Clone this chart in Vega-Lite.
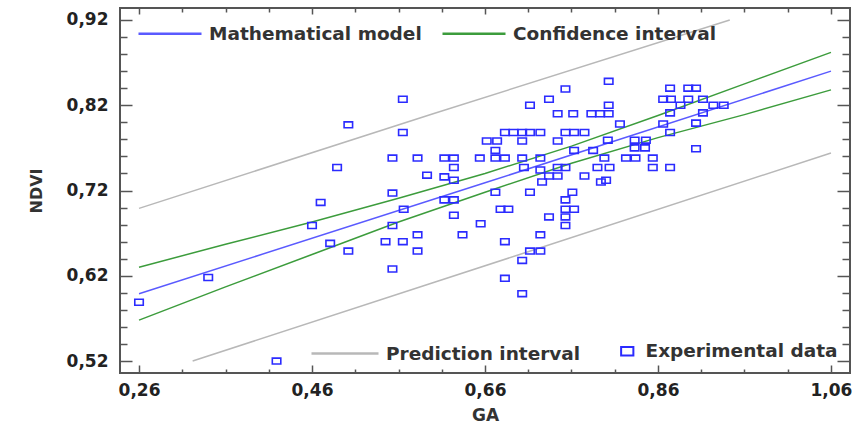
{
  "$schema": "https://vega.github.io/schema/vega-lite/v6.json",
  "width": 730,
  "height": 365,
  "autosize": {"type": "none"},
  "padding": {"left": 120, "top": 8, "right": 3, "bottom": 53},
  "background": "white",
  "config": {
    "view": {"stroke": "#555", "strokeWidth": 2},
    "font": "DejaVu Sans",
    "legend": {
      "labelFont": "DejaVu Sans",
      "labelFontWeight": "bold",
      "labelFontSize": 18.5,
      "labelColor": "#333",
      "labelLimit": 400,
      "padding": 0,
      "labelOffset": 6,
      "title": null
    }
  },
  "datasets": {
    "fit": [
      {"series": "Mathematical model", "line": "model", "GA": 0.26, "NDVI": 0.599},
      {"series": "Mathematical model", "line": "model", "GA": 0.66, "NDVI": 0.729},
      {"series": "Mathematical model", "line": "model", "GA": 1.06, "NDVI": 0.860},
      {"series": "Confidence interval", "line": "cu", "GA": 0.26, "NDVI": 0.630},
      {"series": "Confidence interval", "line": "cu", "GA": 0.36, "NDVI": 0.657},
      {"series": "Confidence interval", "line": "cu", "GA": 0.46, "NDVI": 0.683},
      {"series": "Confidence interval", "line": "cu", "GA": 0.56, "NDVI": 0.711},
      {"series": "Confidence interval", "line": "cu", "GA": 0.66, "NDVI": 0.740},
      {"series": "Confidence interval", "line": "cu", "GA": 0.76, "NDVI": 0.772},
      {"series": "Confidence interval", "line": "cu", "GA": 0.86, "NDVI": 0.808},
      {"series": "Confidence interval", "line": "cu", "GA": 0.96, "NDVI": 0.845},
      {"series": "Confidence interval", "line": "cu", "GA": 1.06, "NDVI": 0.882},
      {"series": "Confidence interval", "line": "cl", "GA": 0.26, "NDVI": 0.568},
      {"series": "Confidence interval", "line": "cl", "GA": 0.36, "NDVI": 0.607},
      {"series": "Confidence interval", "line": "cl", "GA": 0.46, "NDVI": 0.645},
      {"series": "Confidence interval", "line": "cl", "GA": 0.56, "NDVI": 0.683},
      {"series": "Confidence interval", "line": "cl", "GA": 0.66, "NDVI": 0.718},
      {"series": "Confidence interval", "line": "cl", "GA": 0.76, "NDVI": 0.752},
      {"series": "Confidence interval", "line": "cl", "GA": 0.86, "NDVI": 0.782},
      {"series": "Confidence interval", "line": "cl", "GA": 0.96, "NDVI": 0.809},
      {"series": "Confidence interval", "line": "cl", "GA": 1.06, "NDVI": 0.838}
    ],
    "pred": [
      {"series": "Prediction interval", "line": "pu", "GA": 0.26, "NDVI": 0.699},
      {"series": "Prediction interval", "line": "pu", "GA": 0.60, "NDVI": 0.810},
      {"series": "Prediction interval", "line": "pu", "GA": 0.943, "NDVI": 0.920},
      {"series": "Prediction interval", "line": "pl", "GA": 0.322, "NDVI": 0.520},
      {"series": "Prediction interval", "line": "pl", "GA": 0.70, "NDVI": 0.645},
      {"series": "Prediction interval", "line": "pl", "GA": 1.06, "NDVI": 0.764}
    ],
    "obs": [
      {"GA": 0.260, "NDVI": 0.589}, {"GA": 0.340, "NDVI": 0.618}, {"GA": 0.419, "NDVI": 0.520},
      {"GA": 0.460, "NDVI": 0.679}, {"GA": 0.470, "NDVI": 0.706}, {"GA": 0.489, "NDVI": 0.747},
      {"GA": 0.502, "NDVI": 0.797}, {"GA": 0.481, "NDVI": 0.658}, {"GA": 0.502, "NDVI": 0.649},
      {"GA": 0.553, "NDVI": 0.758}, {"GA": 0.553, "NDVI": 0.717}, {"GA": 0.565, "NDVI": 0.827},
      {"GA": 0.565, "NDVI": 0.788}, {"GA": 0.582, "NDVI": 0.758}, {"GA": 0.593, "NDVI": 0.738},
      {"GA": 0.566, "NDVI": 0.698}, {"GA": 0.553, "NDVI": 0.679}, {"GA": 0.545, "NDVI": 0.660},
      {"GA": 0.565, "NDVI": 0.660}, {"GA": 0.553, "NDVI": 0.628}, {"GA": 0.582, "NDVI": 0.668},
      {"GA": 0.582, "NDVI": 0.649}, {"GA": 0.613, "NDVI": 0.758}, {"GA": 0.624, "NDVI": 0.758},
      {"GA": 0.624, "NDVI": 0.747}, {"GA": 0.613, "NDVI": 0.736}, {"GA": 0.624, "NDVI": 0.732},
      {"GA": 0.624, "NDVI": 0.709}, {"GA": 0.613, "NDVI": 0.709}, {"GA": 0.624, "NDVI": 0.691},
      {"GA": 0.634, "NDVI": 0.668}, {"GA": 0.655, "NDVI": 0.681}, {"GA": 0.654, "NDVI": 0.758},
      {"GA": 0.662, "NDVI": 0.778}, {"GA": 0.674, "NDVI": 0.778}, {"GA": 0.672, "NDVI": 0.767},
      {"GA": 0.672, "NDVI": 0.758}, {"GA": 0.683, "NDVI": 0.758}, {"GA": 0.683, "NDVI": 0.788},
      {"GA": 0.693, "NDVI": 0.788}, {"GA": 0.703, "NDVI": 0.788}, {"GA": 0.712, "NDVI": 0.788},
      {"GA": 0.724, "NDVI": 0.788}, {"GA": 0.712, "NDVI": 0.820}, {"GA": 0.734, "NDVI": 0.827},
      {"GA": 0.753, "NDVI": 0.839}, {"GA": 0.744, "NDVI": 0.810}, {"GA": 0.762, "NDVI": 0.810},
      {"GA": 0.783, "NDVI": 0.810}, {"GA": 0.793, "NDVI": 0.810}, {"GA": 0.803, "NDVI": 0.810},
      {"GA": 0.803, "NDVI": 0.820}, {"GA": 0.803, "NDVI": 0.848}, {"GA": 0.753, "NDVI": 0.788},
      {"GA": 0.763, "NDVI": 0.788}, {"GA": 0.775, "NDVI": 0.788}, {"GA": 0.703, "NDVI": 0.778},
      {"GA": 0.744, "NDVI": 0.778}, {"GA": 0.763, "NDVI": 0.767}, {"GA": 0.785, "NDVI": 0.767},
      {"GA": 0.703, "NDVI": 0.758}, {"GA": 0.724, "NDVI": 0.758}, {"GA": 0.705, "NDVI": 0.747},
      {"GA": 0.724, "NDVI": 0.744}, {"GA": 0.744, "NDVI": 0.747}, {"GA": 0.753, "NDVI": 0.747},
      {"GA": 0.734, "NDVI": 0.737}, {"GA": 0.744, "NDVI": 0.737}, {"GA": 0.775, "NDVI": 0.737},
      {"GA": 0.790, "NDVI": 0.747}, {"GA": 0.726, "NDVI": 0.730}, {"GA": 0.794, "NDVI": 0.730},
      {"GA": 0.672, "NDVI": 0.718}, {"GA": 0.712, "NDVI": 0.718}, {"GA": 0.761, "NDVI": 0.718},
      {"GA": 0.753, "NDVI": 0.709}, {"GA": 0.678, "NDVI": 0.698}, {"GA": 0.687, "NDVI": 0.698},
      {"GA": 0.753, "NDVI": 0.698}, {"GA": 0.763, "NDVI": 0.698}, {"GA": 0.734, "NDVI": 0.689},
      {"GA": 0.753, "NDVI": 0.689}, {"GA": 0.753, "NDVI": 0.679}, {"GA": 0.724, "NDVI": 0.668},
      {"GA": 0.683, "NDVI": 0.660}, {"GA": 0.712, "NDVI": 0.649}, {"GA": 0.724, "NDVI": 0.649},
      {"GA": 0.703, "NDVI": 0.638}, {"GA": 0.683, "NDVI": 0.617}, {"GA": 0.703, "NDVI": 0.599},
      {"GA": 0.816, "NDVI": 0.798}, {"GA": 0.802, "NDVI": 0.779}, {"GA": 0.833, "NDVI": 0.779},
      {"GA": 0.846, "NDVI": 0.779}, {"GA": 0.833, "NDVI": 0.770}, {"GA": 0.845, "NDVI": 0.770},
      {"GA": 0.798, "NDVI": 0.758}, {"GA": 0.823, "NDVI": 0.758}, {"GA": 0.834, "NDVI": 0.758},
      {"GA": 0.854, "NDVI": 0.758}, {"GA": 0.854, "NDVI": 0.747}, {"GA": 0.804, "NDVI": 0.747},
      {"GA": 0.874, "NDVI": 0.747}, {"GA": 0.800, "NDVI": 0.732}, {"GA": 0.874, "NDVI": 0.840},
      {"GA": 0.895, "NDVI": 0.840}, {"GA": 0.904, "NDVI": 0.840}, {"GA": 0.866, "NDVI": 0.827},
      {"GA": 0.875, "NDVI": 0.827}, {"GA": 0.895, "NDVI": 0.827}, {"GA": 0.912, "NDVI": 0.827},
      {"GA": 0.886, "NDVI": 0.820}, {"GA": 0.924, "NDVI": 0.820}, {"GA": 0.936, "NDVI": 0.820},
      {"GA": 0.874, "NDVI": 0.811}, {"GA": 0.912, "NDVI": 0.811}, {"GA": 0.866, "NDVI": 0.798},
      {"GA": 0.874, "NDVI": 0.788}, {"GA": 0.904, "NDVI": 0.799}, {"GA": 0.904, "NDVI": 0.769}
    ]
  },
  "resolve": {
    "scale": {"color": "independent"},
    "legend": {"color": "independent"},
    "axis": {"x": "independent", "y": "independent"}
  },
  "layer": [
    {
      "data": {"name": "fit"},
      "mark": {"type": "line", "strokeWidth": 1.5},
      "encoding": {
        "x": {
          "field": "GA", "type": "quantitative",
          "scale": {"domain": [0.238, 1.082], "nice": false, "zero": false},
          "axis": {
            "orient": "bottom",
            "values": [0.26, 0.31, 0.36, 0.41, 0.46, 0.51, 0.56, 0.61, 0.66, 0.71, 0.76, 0.81, 0.86, 0.91, 0.96, 1.01, 1.06],
            "tickSize": {"condition": {"test": "indexof([0.26, 0.46, 0.66, 0.86, 1.06], datum.value) >= 0", "value": -8}, "value": -4},
            "tickColor": "#555", "tickWidth": 1.5,
            "labelExpr": "indexof([0.26, 0.46, 0.66, 0.86, 1.06], datum.value) >= 0 ? replace(format(datum.value, '.2f'), '.', ',') : ''",
            "labelPadding": 17, "labelFlush": false, "labelOverlap": false, "labelBound": false,
            "labelFont": "DejaVu Sans", "labelFontWeight": "bold", "labelFontSize": 17, "labelColor": "#222",
            "domain": false, "grid": false,
            "title": "GA", "titleFont": "DejaVu Sans", "titleFontWeight": "bold", "titleFontSize": 17, "titleColor": "#333", "titlePadding": 5
          }
        },
        "y": {
          "field": "NDVI", "type": "quantitative",
          "scale": {"domain": [0.506, 0.934], "nice": false, "zero": false},
          "axis": {
            "orient": "left",
            "values": [0.52, 0.54, 0.56, 0.58, 0.60, 0.62, 0.64, 0.66, 0.68, 0.70, 0.72, 0.74, 0.76, 0.78, 0.80, 0.82, 0.84, 0.86, 0.88, 0.90, 0.92],
            "tickSize": {"condition": {"test": "indexof([0.52, 0.62, 0.72, 0.82, 0.92], datum.value) >= 0", "value": -12}, "value": -7},
            "tickColor": "#555", "tickWidth": 1.5,
            "labelExpr": "indexof([0.52, 0.62, 0.72, 0.82, 0.92], datum.value) >= 0 ? replace(format(datum.value, '.2f'), '.', ',') : ''",
            "labelPadding": 24, "labelFlush": false, "labelOverlap": false, "labelBound": false,
            "labelFont": "DejaVu Sans", "labelFontWeight": "bold", "labelFontSize": 17, "labelColor": "#222",
            "domain": false, "grid": false,
            "title": "NDVI", "titleFont": "DejaVu Sans", "titleFontWeight": "bold", "titleFontSize": 16, "titleColor": "#333", "titlePadding": 22
          }
        },
        "detail": {"field": "line"},
        "color": {
          "field": "series", "type": "nominal",
          "scale": {"domain": ["Mathematical model", "Confidence interval"], "range": ["#5a5aff", "#3c9c3c"]},
          "legend": {
            "orient": "none", "direction": "horizontal", "legendX": 17, "legendY": -7.5,
            "symbolType": "stroke", "symbolSize": 3969, "symbolStrokeWidth": 2.5,
            "columnPadding": 15
          }
        }
      }
    },
    {
      "data": {"name": "pred"},
      "mark": {"type": "line", "strokeWidth": 1.5},
      "encoding": {
        "x": {"field": "GA", "type": "quantitative", "scale": {"domain": [0.238, 1.082], "nice": false, "zero": false}, "axis": null},
        "y": {"field": "NDVI", "type": "quantitative", "scale": {"domain": [0.506, 0.934], "nice": false, "zero": false}, "axis": null},
        "detail": {"field": "line"},
        "color": {
          "field": "series", "type": "nominal",
          "scale": {"domain": ["Prediction interval"], "range": ["#b8b8b8"]},
          "legend": {
            "orient": "none", "legendX": 190, "legendY": 310.5,
            "symbolType": "stroke", "symbolSize": 4489, "symbolStrokeWidth": 2.5
          }
        }
      }
    },
    {
      "data": {"name": "obs"},
      "mark": {"type": "point", "shape": "M-1,-0.7H1V0.7H-1Z", "size": 72, "filled": false, "strokeWidth": 1.6, "opacity": 1},
      "encoding": {
        "x": {
          "field": "GA", "type": "quantitative",
          "scale": {"domain": [0.238, 1.082], "nice": false, "zero": false},
          "axis": {
            "orient": "top",
            "values": [0.26, 0.31, 0.36, 0.41, 0.46, 0.51, 0.56, 0.61, 0.66, 0.71, 0.76, 0.81, 0.86, 0.91, 0.96, 1.01, 1.06],
            "tickSize": {"condition": {"test": "indexof([0.26, 0.46, 0.66, 0.86, 1.06], datum.value) >= 0", "value": -6}, "value": -4},
            "tickColor": "#555", "tickWidth": 1.5,
            "labels": false, "domain": false, "grid": false, "title": null
          }
        },
        "y": {
          "field": "NDVI", "type": "quantitative",
          "scale": {"domain": [0.506, 0.934], "nice": false, "zero": false},
          "axis": {
            "orient": "right",
            "values": [0.52, 0.54, 0.56, 0.58, 0.60, 0.62, 0.64, 0.66, 0.68, 0.70, 0.72, 0.74, 0.76, 0.78, 0.80, 0.82, 0.84, 0.86, 0.88, 0.90, 0.92],
            "tickSize": {"condition": {"test": "indexof([0.52, 0.62, 0.72, 0.82, 0.92], datum.value) >= 0", "value": -13}, "value": -8},
            "tickColor": "#555", "tickWidth": 1.5,
            "labels": false, "domain": false, "grid": false, "title": null
          }
        },
        "color": {
          "datum": "Experimental data", "type": "nominal",
          "scale": {"domain": ["Experimental data"], "range": ["#2b2bff"]},
          "legend": {
            "orient": "bottom-right", "offset": 12, "labelOffset": 9,
            "symbolType": "M-1,-0.7H1V0.7H-1Z", "symbolSize": 150, "symbolStrokeWidth": 2
          }
        }
      }
    }
  ]
}
